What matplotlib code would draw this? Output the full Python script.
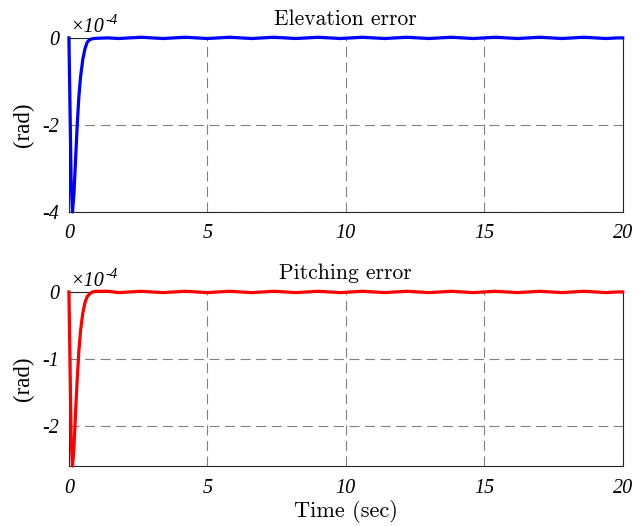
import matplotlib
matplotlib.use("Agg")
import matplotlib.pyplot as plt
import numpy as np

# ---- data (values in units of 1e-4 rad) ----
t_trans = [0.0, 0.04, 0.08, 0.13, 0.18, 0.24, 0.3, 0.36, 0.42, 0.5, 0.58, 0.66, 0.75, 0.85, 1.0]
elev_trans = [0.0, -1.6, -3.3, -4.0, -3.6, -2.8, -2.0, -1.35, -0.9, -0.5, -0.25, -0.1, -0.04, -0.02, -0.01]
pitch_trans = [0.0, -1.05, -2.2, -2.6, -2.35, -1.8, -1.3, -0.88, -0.58, -0.32, -0.16, -0.07, -0.03, 0.0, 0.01]

t_ss = [1.4, 1.8, 2.2, 2.6, 3.0, 3.4, 3.8, 4.2, 4.6, 5.0, 5.4, 5.8, 6.2, 6.6, 7.0, 7.4, 7.8, 8.2,
        8.6, 9.0, 9.4, 9.8, 10.2, 10.6, 11.0, 11.4, 11.8, 12.2, 12.6, 13.0, 13.4, 13.8, 14.2, 14.6,
        15.0, 15.4, 15.8, 16.2, 16.6, 17.0, 17.4, 17.8, 18.2, 18.6, 19.0, 19.4, 19.8, 20.0]
elev_ss = [0.0, -0.015, 0.0, 0.015, 0.0, -0.015, 0.0, 0.015, 0.0, -0.015, 0.0, 0.015, 0.0, -0.015, 0.0, 0.015,
           0.0, -0.015, 0.0, 0.015, 0.0, -0.015, 0.0, 0.015, 0.0, -0.015, 0.0, 0.015, 0.0, -0.015, 0.0, 0.015,
           0.0, -0.015, 0.0, 0.015, 0.0, -0.015, 0.0, 0.015, 0.0, -0.015, 0.0, 0.015, 0.0, -0.015, 0.0, 0.0]
pitch_ss = [0.01, -0.01, 0.0, 0.01, 0.0, -0.01, 0.0, 0.01, 0.0, -0.01, 0.0, 0.01, 0.0, -0.01, 0.0, 0.01,
            0.0, -0.01, 0.0, 0.01, 0.0, -0.01, 0.0, 0.01, 0.0, -0.01, 0.0, 0.01, 0.0, -0.01, 0.0, 0.01,
            0.0, -0.01, 0.0, 0.01, 0.0, -0.01, 0.0, 0.01, 0.0, -0.01, 0.0, 0.01, 0.0, -0.01, 0.0, 0.0]

x_ticks = [0, 5, 10, 15, 20]
x_tick_labels = ["0", "5", "10", "15", "20"]
elev_yticks = [-4, -2, 0]
elev_ylabels = ["-4", "-2", "0"]
pitch_yticks = [-2, -1, 0]
pitch_ylabels = ["-2", "-1", "0"]

titles = ["Elevation error", "Pitching error"]
colors = ["#0000ff", "#ff0000"]

t = np.array(t_trans + t_ss)
elev = np.array(elev_trans + elev_ss) * 1e-4
pitch = np.array(pitch_trans + pitch_ss) * 1e-4

fig = plt.figure(figsize=(6.44, 5.26), dpi=100)
ax1 = fig.add_axes([0.107, 0.597, 0.860, 0.331])
ax2 = fig.add_axes([0.107, 0.114, 0.860, 0.331])

tick_font = dict(family="Liberation Serif", style="italic", size=14.5)
title_font = dict(family="cmr10", size=15.5)

def setup(ax, y, color, ylim, yticks, ylabels, title):
    ax.plot(t, y / 1e-4, color=color, lw=2.3, zorder=3, solid_joinstyle="round", clip_on=False)
    ax.set_xlim(0, 20)
    ax.set_ylim(*ylim)
    ax.set_xticks(x_ticks)
    ax.set_xticklabels(x_tick_labels, fontdict=tick_font)
    ax.set_yticks(yticks)
    ax.set_yticklabels(ylabels, fontdict=tick_font)
    ax.tick_params(axis="x", length=0, pad=9)
    ax.tick_params(axis="y", length=0, pad=7)
    ax.grid(True, color="#808080", lw=0.8, dashes=(9, 5))
    for s in ax.spines.values():
        s.set_color("#262626")
        s.set_linewidth(0.8)
    ax.set_title(title, fontdict=title_font, pad=9)
    ax.set_ylabel("(rad)", family="Liberation Serif", size=16.5, labelpad=6)
    base = ax.text(0.003, 1.005, "\u00d710", transform=ax.transAxes, ha="left", va="bottom",
                   family="Liberation Serif", style="italic", size=14.5)
    ax.annotate("-4", xy=(1.0, 0.55), xycoords=base, xytext=(0.5, 0), textcoords="offset points",
                ha="left", va="bottom", family="Liberation Serif", style="italic", size=10.5)

setup(ax1, elev, colors[0], (-4, 0), elev_yticks, elev_ylabels, titles[0])
setup(ax2, pitch, colors[1], (-2.6, 0), pitch_yticks, pitch_ylabels, titles[1])
ax2.set_xlabel("Time (sec)", family="cmr10", size=16, labelpad=2)

fig.savefig("out.png", dpi=100, facecolor="white")
